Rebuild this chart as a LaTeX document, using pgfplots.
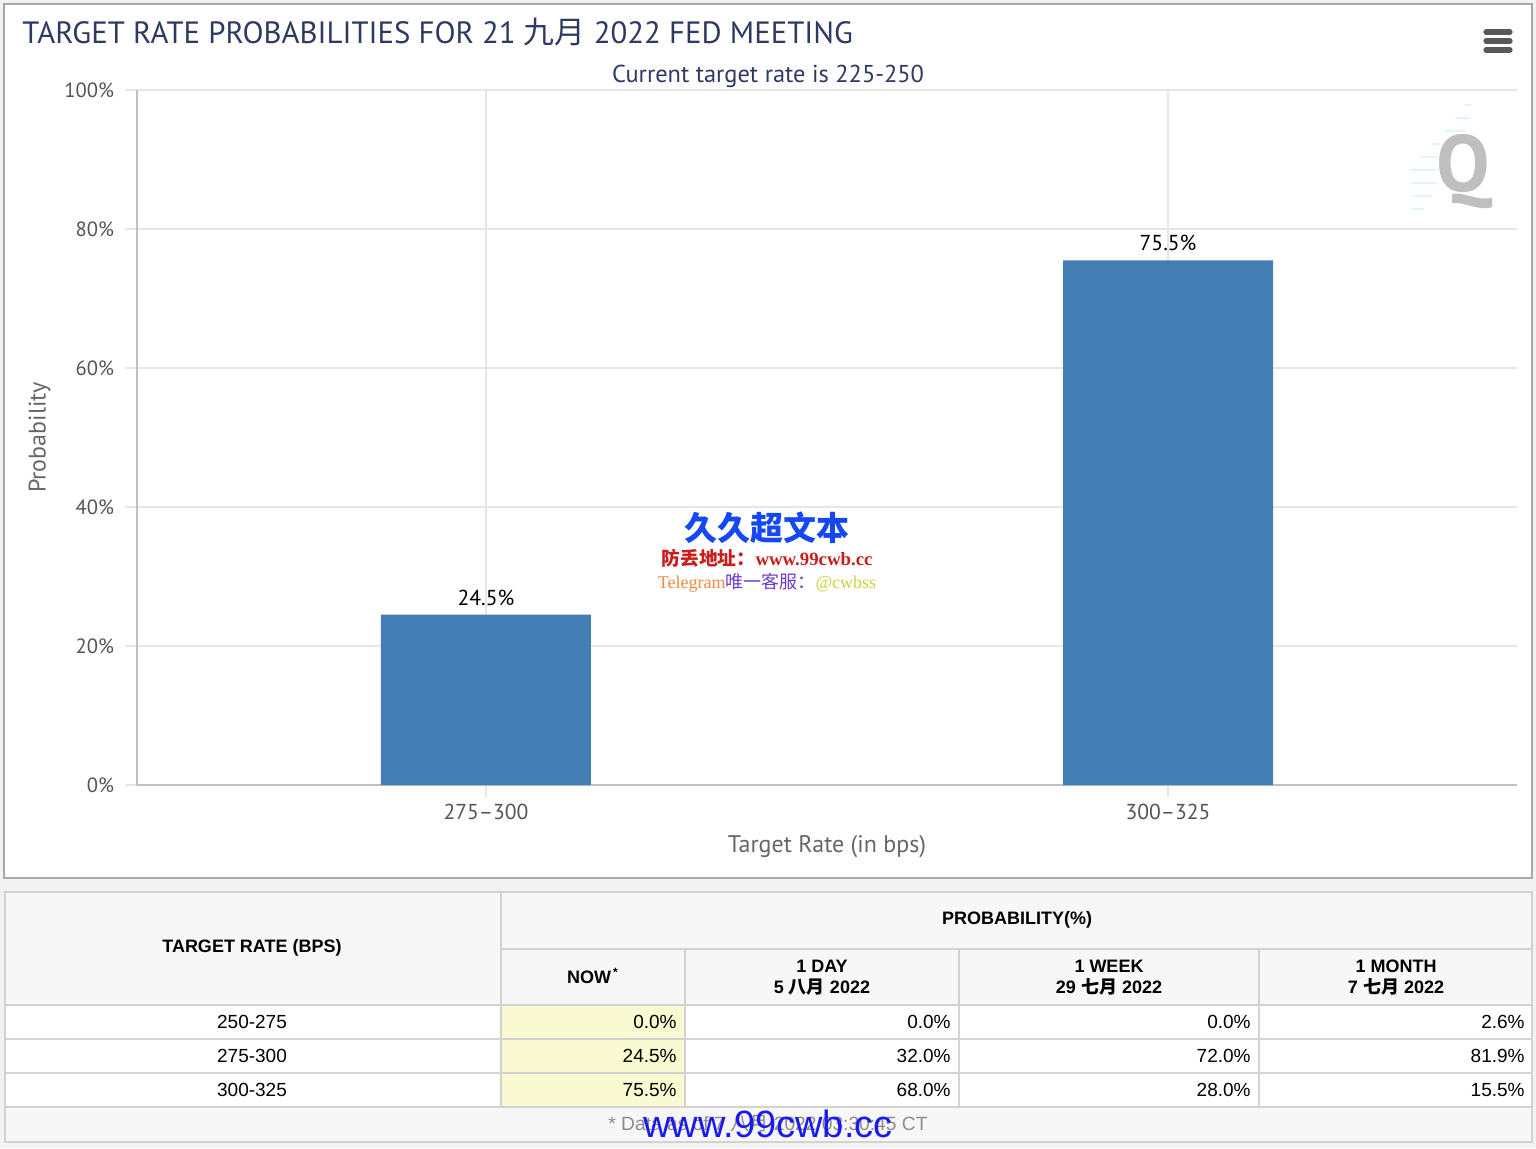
\documentclass[border=0pt]{standalone}
\usepackage{pgfplots}
\pgfplotsset{compat=1.18}
\usepackage{fontspec}
\setmainfont{PT Sans}
\newfontfamily\tabfont{Liberation Sans}
\newfontfamily\cjk{Noto Sans CJK SC}
\newfontfamily\wmserif{Liberation Serif}
\definecolor{titlenavy}{HTML}{2D3A62}
\definecolor{barblue}{HTML}{437FB4}
\definecolor{ticklab}{HTML}{555555}
\definecolor{axtitle}{HTML}{666666}
\definecolor{gridgray}{HTML}{E6E6E6}
\definecolor{axisgray}{HTML}{C0C0C0}
\definecolor{tableline}{HTML}{D2D2D2}
\definecolor{headbg}{HTML}{F7F7F7}
\definecolor{nowyellow}{HTML}{FAFAD2}
\definecolor{pagebg}{HTML}{F2F2F2}
\definecolor{panelborder}{HTML}{A8A8A8}
\definecolor{wmblue}{HTML}{1A1AF0}
\definecolor{wmred}{HTML}{C81E1E}
\definecolor{wmorange}{HTML}{F08C3C}
\definecolor{wmpurple}{HTML}{6A3CC8}
\definecolor{wmyellow}{HTML}{C8D23C}
\newcommand{\fs}[1]{\fontsize{#1}{#1}\selectfont}
\begin{document}
\begin{tikzpicture}
\useasboundingbox (0pt,0pt) rectangle (768pt,-574pt);
\begin{scope}[x=0.5pt,y=-0.5pt]
  \fill[pagebg] (0,0) rectangle (1536,1148);
  \filldraw[fill=white,draw=panelborder,line width=1pt] (4,4) rectangle (1532,878);
  % title
  \node[anchor=west,text=titlenavy,inner sep=0pt] at (22,32) {\fs{15.4pt}TARGET RATE PROBABILITIES FOR 21 {\cjk 九月} 2022 FED MEETING};
  \node[text=titlenavy,inner sep=0pt] at (768,76) {\fs{12.2pt}Current target rate is 225-250};
  % menu icon
  \foreach \yy in {32,41,50} \draw[line width=2.6pt,line cap=round,color=black!65] (1486,\yy) -- (1510,\yy);
  % Q logo
  \node[text=black!25,inner sep=0pt] at (1465,172) {\fs{40pt}\textbf{Q}};
  \foreach \yy/\xa/\xb in {105/1465/1472,118/1455/1470,131/1445/1465,144/1432/1440,157/1420/1438,170/1410/1436,183/1412/1436,196/1414/1432,209/1412/1424}
    \draw[color=cyan!12,line width=1pt] (\xa,\yy) -- (\xb,\yy);
\end{scope}
\begin{axis}[
  at={(68.5pt,-392.5pt)}, anchor=south west,
  scale only axis, width=690pt, height=347.5pt,
  xmin=-0.5117, xmax=1.5117, ymin=0, ymax=100,
  xtick={0,1}, xticklabels={275--300,300--325},
  ytick={0,20,40,60,80,100},
  yticklabels={0\%,20\%,40\%,60\%,80\%,100\%},
  axis x line*=bottom, axis y line*=left,
  axis line style={-,draw=axisgray,line width=1pt},
  grid=major, grid style={gridgray,line width=1pt},
  tick align=outside, major tick length=6pt,
  tick style={gridgray,line width=1pt},
  yticklabel style={font=\fs{10.3pt},text=ticklab,xshift=-2pt},
  xticklabel style={font=\fs{10.8pt},text=ticklab},
  /pgf/number format/assume math mode=true,
  xlabel={Target Rate (in bps)}, ylabel={Probability},
  label style={font=\fs{12pt},text=axtitle},
  xlabel style={yshift=-1pt},
  ylabel style={yshift=0pt},
  clip=false,
]
\addplot[ybar, bar width=105pt, fill=barblue, draw=none,
  nodes near coords={\pgfmathprintnumber[fixed,precision=1,fixed zerofill]{\pgfplotspointmeta}\%},
  nodes near coords style={font=\fs{10.8pt},text=black,anchor=south,yshift=1pt}]
  coordinates {(0,24.5) (1,75.5)};
\end{axis}
\begin{scope}[x=0.5pt,y=-0.5pt]
  % watermark middle
  \node[text=wmblue!80!cyan,inner sep=0pt] at (767,528) {\fs{16.5pt}\cjk\bfseries 久久超文本};
  \node[text=wmred,inner sep=0pt] at (767,558) {\fs{9.4pt}{\cjk\bfseries 防丢地址：}\wmserif\bfseries www.99cwb.cc};
  \node[inner sep=0pt] at (767,583) {\fs{9pt}\wmserif{\color{wmorange}Telegram}{\cjk\color{wmpurple}唯一客服：}{\color{wmyellow} @cwbss}};
  % table
  \fill[headbg] (5,892) rectangle (1532,1005);
  \fill[white] (5,1005) rectangle (1532,1107);
  \fill[nowyellow] (501,1005) rectangle (685,1107);
  \fill[headbg] (5,1107) rectangle (1532,1142);
  \begin{scope}[draw=tableline,line width=1pt]
    \draw (5,892) rectangle (1532,1142);
    \draw (501,949) -- (1532,949);
    \foreach \yy in {1005,1039,1073,1107} \draw (5,\yy) -- (1532,\yy);
    \draw (501,892) -- (501,1107);
    \foreach \xx in {685,959,1259} \draw (\xx,949) -- (\xx,1107);
  \end{scope}
  \begin{scope}[every node/.style={inner sep=0pt,text=black}]
    \node at (252,948) {\fs{9pt}\tabfont\bfseries TARGET RATE (BPS)};
    \node at (1017,920) {\fs{9pt}\tabfont\bfseries PROBABILITY(\%)};
    \node at (593,976) {\fs{9pt}\tabfont\bfseries NOW\textsuperscript{\,*}};
    \foreach \xx/\la/\lb in {822/1 DAY/5 {\cjk 八月} 2022, 1109/1 WEEK/29 {\cjk 七月} 2022, 1396/1 MONTH/7 {\cjk 七月} 2022}{
      \node at (\xx,966) {\fs{9pt}\tabfont\bfseries \la};
      \node at (\xx,987) {\fs{9pt}\tabfont\bfseries \lb};
    }
    \foreach \yy/\r/\a/\b/\c/\d in {1022/250-275/0.0/0.0/0.0/2.6, 1056/275-300/24.5/32.0/72.0/81.9, 1090/300-325/75.5/68.0/28.0/15.5}{
      \node at (252,\yy) {\fs{9.5pt}\tabfont \r};
      \node[anchor=east] at (677,\yy) {\fs{9.5pt}\tabfont \a\%};
      \node[anchor=east] at (951,\yy) {\fs{9.5pt}\tabfont \b\%};
      \node[anchor=east] at (1251,\yy) {\fs{9.5pt}\tabfont \c\%};
      \node[anchor=east] at (1525,\yy) {\fs{9.5pt}\tabfont \d\%};
    }
    \node[text=black!45] at (768,1124) {\fs{9.6pt}\tabfont * Data as of 7 {\cjk 八月} 2022 03:30:45 CT};
    \node[text=wmblue] at (768,1124) {\fs{19pt}\tabfont www.99cwb.cc};
  \end{scope}
\end{scope}
\end{tikzpicture}
\end{document}
